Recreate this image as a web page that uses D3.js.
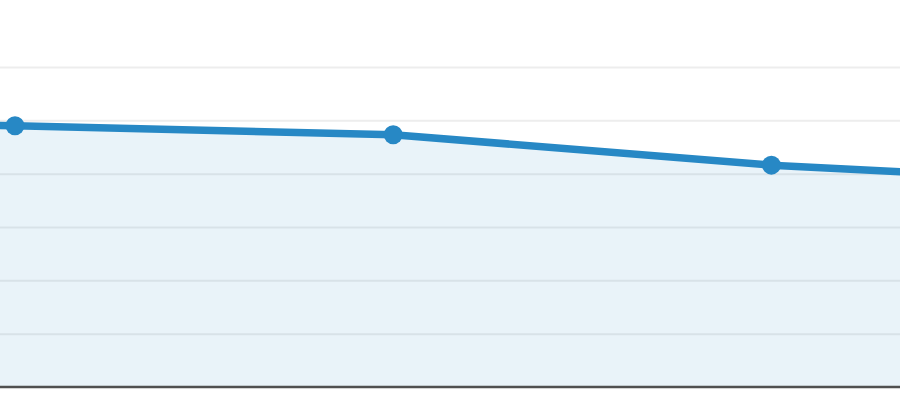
<!DOCTYPE html>
<html>
<head>
<meta charset="utf-8">
<script src="https://cdn.jsdelivr.net/npm/d3@7"></script>
<style>
  html, body { margin: 0; padding: 0; background: #ffffff; }
  svg { display: block; }
</style>
</head>
<body>
<svg id="chart" width="900" height="400"></svg>
<script>
// Data (visible window of a larger chart; first and last points lie just past the edges)
const categories = ["P0", "P1", "P2", "P3", "P4"];
const values = [49.6, 49.0, 47.3, 41.6, 38.0];
const yTicks = [0, 10, 20, 30, 40, 50, 60];

const svg = d3.select("#chart");
const W = 900, H = 400;

const x = d3.scalePoint()
  .domain(categories)
  .range([15 - 378.2, 15 + 378.2 * (categories.length - 2)]);

const y = d3.scaleLinear()
  .domain([0, 60])
  .range([387, 67]);

// gridlines
const gridAxis = d3.axisLeft(y).tickValues(yTicks.slice(1)).tickSize(-W).tickFormat("");
const g = svg.append("g").call(gridAxis);
g.select(".domain").remove();
g.selectAll(".tick line").attr("stroke", "#ededed").attr("stroke-width", 2);

const data = categories.map((c, i) => ({ c, v: values[i] }));

// area
const area = d3.area()
  .x(d => x(d.c))
  .y0(y(0))
  .y1(d => y(d.v));
svg.append("path")
  .datum(data)
  .attr("d", area)
  .attr("fill", "rgba(42,139,200,0.1)");

// baseline axis
const xAxis = d3.axisBottom(x).tickSize(0).tickFormat("");
const ax = svg.append("g").attr("transform", `translate(0,${y(0)})`).call(xAxis);
ax.select(".domain").attr("d", `M-10,0H${W + 10}`).attr("stroke", "#505050").attr("stroke-width", 2.5);

// line
const line = d3.line()
  .x(d => x(d.c))
  .y(d => y(d.v));
svg.append("path")
  .datum(data)
  .attr("d", line)
  .attr("fill", "none")
  .attr("stroke", "#2788c5")
  .attr("stroke-width", 7.5)
  .attr("stroke-linejoin", "round");

// markers
svg.selectAll("circle.pt")
  .data(data)
  .join("circle")
  .attr("class", "pt")
  .attr("cx", d => x(d.c))
  .attr("cy", d => y(d.v))
  .attr("r", 9.5)
  .attr("fill", "#2788c5");
</script>
</body>
</html>
